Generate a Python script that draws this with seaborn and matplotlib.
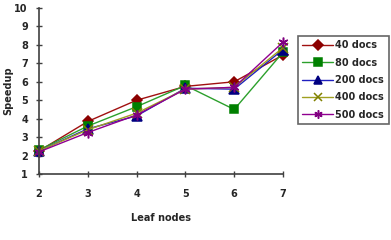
import matplotlib
matplotlib.use("Agg")
import matplotlib.pyplot as plt
import seaborn as sns
import pandas as pd

leaf_nodes = [2, 3, 4, 5, 6, 7]
docs_40 = [2.25, 3.85, 5.0, 5.75, 6.0, 7.45]
docs_80 = [2.3, 3.6, 4.65, 5.8, 4.5, 7.6]
docs_200 = [2.25, 3.45, 4.15, 5.65, 5.6, 7.75]
docs_400 = [2.25, 3.4, 4.3, 5.6, 5.7, 7.85]
docs_500 = [2.2, 3.25, 4.2, 5.6, 5.7, 8.15]
series_names = ["40 docs", "80 docs", "200 docs", "400 docs", "500 docs"]

sns.set_style("white")
plt.rcParams['font.family'] = ['DejaVu Sans']

rows = []
for name, vals in zip(series_names, [docs_40, docs_80, docs_200, docs_400, docs_500]):
    for x, v in zip(leaf_nodes, vals):
        rows.append({"Leaf nodes": x, "Speedup": v, "series": name})
df = pd.DataFrame(rows)

line_colors = ["#a01010", "#2ca02c", "#2020c0", "#a0a020", "#900090"]
marker_colors = ["#8b0000", "#008000", "#000080", "#808000", "#800080"]
markers = ["D", "s", "^", "x", (6, 2, 0)]
msizes = [5.5, 6, 6.5, 6.5, 7]

fig = plt.figure(figsize=(3.91, 2.4), dpi=100)
ax = fig.add_axes([39/391, 1 - 174/240, (283-39)/391, (174-8)/240])

for i, name in enumerate(series_names):
    sub = df[df["series"] == name]
    sns.lineplot(data=sub, x="Leaf nodes", y="Speedup", ax=ax, color=line_colors[i],
                 linewidth=1.0, marker=markers[i], markersize=msizes[i],
                 markerfacecolor=marker_colors[i], markeredgecolor=marker_colors[i],
                 markeredgewidth=1.1, label=name)

ax.set_xlim(2, 7)
ax.set_ylim(1, 10)
ax.set_xticks(leaf_nodes)
ax.set_yticks(range(1, 11))
for s in ["top", "right"]:
    ax.spines[s].set_visible(False)
for s in ["left", "bottom"]:
    ax.spines[s].set_color("#404040")
    ax.spines[s].set_linewidth(1.2)
ax.tick_params(axis="both", bottom=True, left=True, direction="inout", length=4,
               width=1, color="#404040", labelsize=7)
ax.tick_params(axis="x", pad=9)
ax.tick_params(axis="y", pad=6)
for lab in ax.get_xticklabels() + ax.get_yticklabels():
    lab.set_fontweight("bold")
ax.set_xlabel("Leaf nodes", fontsize=7, fontweight="bold", labelpad=10)
ax.set_ylabel("Speedup", fontsize=7, fontweight="bold", labelpad=1)
for c in ax.get_lines():
    c.set_clip_on(False)

leg = ax.legend(loc="upper left", bbox_to_anchor=(298/391, 1 - 36/240),
                bbox_transform=fig.transFigure, frameon=True, fancybox=False,
                prop={"size": 7, "weight": "bold"}, handlelength=3.2,
                borderpad=0.45, labelspacing=0.75, handletextpad=0.2,
                borderaxespad=0, markerscale=0.85)
leg.get_frame().set_edgecolor("#404040")
leg.get_frame().set_linewidth(1.2)

fig.savefig("out.png", dpi=100)
